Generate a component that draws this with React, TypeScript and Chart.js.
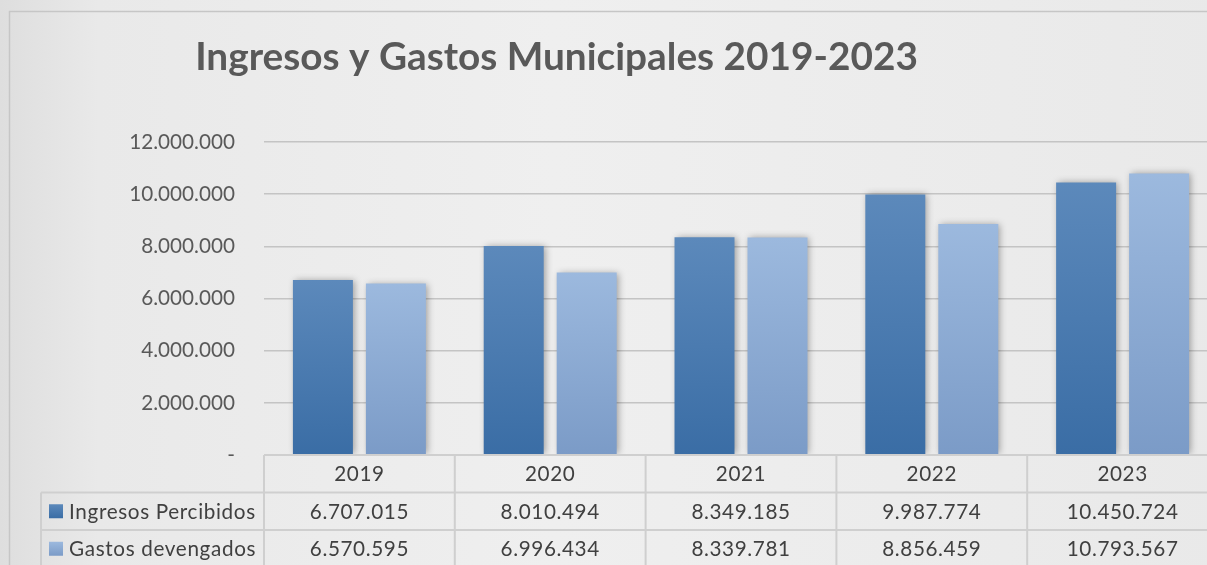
import React, { useEffect, useRef } from 'react';
import { Chart, registerables } from 'chart.js';

Chart.register(...registerables);

const categories = ['2019', '2020', '2021', '2022', '2023'];
const ingresos = [6707015, 8010494, 8349185, 9987774, 10450724];
const gastos = [6570595, 6996434, 8339781, 8856459, 10793567];
const seriesNames = ['Ingresos Percibidos', 'Gastos devengados'];
const yTicks = [0, 2000000, 4000000, 6000000, 8000000, 10000000, 12000000];
const chartTitle = 'Ingresos y Gastos Municipales 2019-2023';

const FONT = 'Lato, "Open Sans", sans-serif';
const W = 1230;
const H = 565;

function fmt(n: number): string {
  if (n === 0) return '-';
  return String(n).replace(/\B(?=(\d{3})+(?!\d))/g, '.');
}

const colors = {
  ing: ['#5c89bb', '#3a6da5'],
  gas: ['#9cb9de', '#7b9bc7'],
};

function barGradient(ctx: any, pair: string[]) {
  const chart = ctx.chart;
  const ys = chart.scales && chart.scales.y;
  if (!ys || ctx.type !== 'data' || !chart.chartArea) return pair[1];
  const top = ys.getPixelForValue(ctx.raw);
  const bottom = ys.getPixelForValue(0);
  const g = chart.ctx.createLinearGradient(0, top, 0, bottom);
  g.addColorStop(0, pair[0]);
  g.addColorStop(1, pair[1]);
  return g;
}

const bgPlugin = {
  id: 'bgPlugin',
  beforeDraw(chart: any) {
    const c = chart.ctx;
    c.save();
    const g = c.createLinearGradient(0, 0, W, 0);
    g.addColorStop(0, '#dedede');
    g.addColorStop(0.08, '#e9e9e9');
    g.addColorStop(0.45, '#efefef');
    g.addColorStop(1, '#e9e9e9');
    c.fillStyle = g;
    c.fillRect(0, 0, W, H);
    c.strokeStyle = '#c6c6c6';
    c.lineWidth = 1.5;
    c.strokeRect(9.5, 11.5, 1400, 700);
    // title
    c.fillStyle = '#595959';
    c.font = `bold 40px ${FONT}`;
    const w = c.measureText(chartTitle).width;
    const size = (40 * 723) / w;
    c.font = `bold ${size}px ${FONT}`;
    c.textAlign = 'center';
    c.textBaseline = 'alphabetic';
    c.fillText(chartTitle, 556.5, 70);
    c.restore();
  },
};

const shadowPlugin = {
  id: 'shadowPlugin',
  beforeDatasetsDraw(chart: any) {
    const c = chart.ctx;
    c.save();
    c.shadowColor = 'rgba(0,0,0,0.35)';
    c.shadowBlur = 7;
    c.shadowOffsetX = 2;
    c.shadowOffsetY = 0;
  },
  afterDatasetsDraw(chart: any) {
    chart.ctx.restore();
  },
};

const tablePlugin = {
  id: 'tablePlugin',
  afterDraw(chart: any) {
    const c = chart.ctx;
    const xs = chart.scales.x;
    const area = chart.chartArea;
    const n = categories.length;
    const colW = (area.right - area.left) / n;
    const top = area.bottom;
    const rowH = 37.5;
    const leftX = 41;
    c.save();
    c.strokeStyle = '#cfcfcf';
    c.lineWidth = 2;
    c.beginPath();
    c.moveTo(area.left, top);
    c.lineTo(W, top);
    for (let r = 1; r <= 3; r++) {
      c.moveTo(leftX, top + rowH * r);
      c.lineTo(W, top + rowH * r);
    }
    for (let i = 0; i <= n; i++) {
      const x = i < n ? xs.getPixelForTick(i) - colW / 2 : xs.getPixelForTick(n - 1) + colW / 2;
      c.moveTo(x, top);
      c.lineTo(x, H + 10);
    }
    c.moveTo(leftX, top + rowH);
    c.lineTo(leftX, H + 10);
    c.stroke();

    c.textAlign = 'center';
    c.textBaseline = 'middle';
    c.fillStyle = '#404040';
    c.font = `20.7px ${FONT}`;
    (c as any).letterSpacing = '0.6px';
    categories.forEach((cat, i) => {
      const x = xs.getPixelForTick(i);
      c.fillText(cat, x, top + rowH / 2 + 1);
      c.fillText(fmt(ingresos[i]), x, top + rowH * 1.5 + 1);
      c.fillText(fmt(gastos[i]), x, top + rowH * 2.5 + 1);
    });
    c.textAlign = 'left';
    (c as any).letterSpacing = '0.65px';
    const pairs = [colors.ing, colors.gas];
    seriesNames.forEach((name, r) => {
      const cy = top + rowH * (1.5 + r);
      const g = c.createLinearGradient(0, cy - 7, 0, cy + 7);
      g.addColorStop(0, pairs[r][0]);
      g.addColorStop(1, pairs[r][1]);
      c.fillStyle = g;
      c.fillRect(49, cy - 7, 14, 14);
      c.fillStyle = '#404040';
      c.fillText(name, 69, cy + 1);
    });
    (c as any).letterSpacing = '0px';
    c.restore();
  },
};

export default function App() {
  const ref = useRef<HTMLCanvasElement | null>(null);

  useEffect(() => {
    if (!ref.current) return;
    const chart = new Chart(ref.current, {
      type: 'bar',
      data: {
        labels: categories,
        datasets: [
          {
            label: seriesNames[0],
            data: ingresos,
            backgroundColor: (ctx: any) => barGradient(ctx, colors.ing),
            borderWidth: 0,
            barPercentage: 0.822,
            categoryPercentage: 0.765,
          },
          {
            label: seriesNames[1],
            data: gastos,
            backgroundColor: (ctx: any) => barGradient(ctx, colors.gas),
            borderWidth: 0,
            barPercentage: 0.822,
            categoryPercentage: 0.765,
          },
        ],
      },
      options: {
        responsive: false,
        animation: false,
        layout: { padding: { top: 142, right: 12, left: 0, bottom: 0 } },
        plugins: {
          legend: { display: false },
          title: { display: false },
          tooltip: { enabled: false },
        },
        scales: {
          x: {
            grid: { display: false },
            border: { display: false },
            ticks: { display: false },
            afterFit: (s: any) => {
              s.height = 110;
            },
          },
          y: {
            min: 0,
            max: 12000000,
            afterBuildTicks: (s: any) => {
              s.ticks = yTicks.map((v) => ({ value: v }));
            },
            afterFit: (s: any) => {
              s.width = 264;
            },
            grid: {
              color: (ctx: any) => (ctx.tick && ctx.tick.value === 0 ? 'rgba(0,0,0,0)' : '#c4c4c4'),
              lineWidth: 1.5,
              drawTicks: false,
            },
            border: { display: false },
            ticks: {
              padding: 29,
              color: '#595959',
              font: { family: FONT, size: 20.7 },
              callback: (v: any) => fmt(Number(v)),
            },
          },
        },
      },
      plugins: [bgPlugin, shadowPlugin, tablePlugin],
    } as any);
    return () => chart.destroy();
  }, []);

  return (
    <div style={{ position: 'fixed', left: 0, top: 0, width: 1207, height: 565, overflow: 'hidden' }}>
      <canvas ref={ref} width={W} height={H} style={{ width: W, height: H, display: 'block' }} />
    </div>
  );
}
